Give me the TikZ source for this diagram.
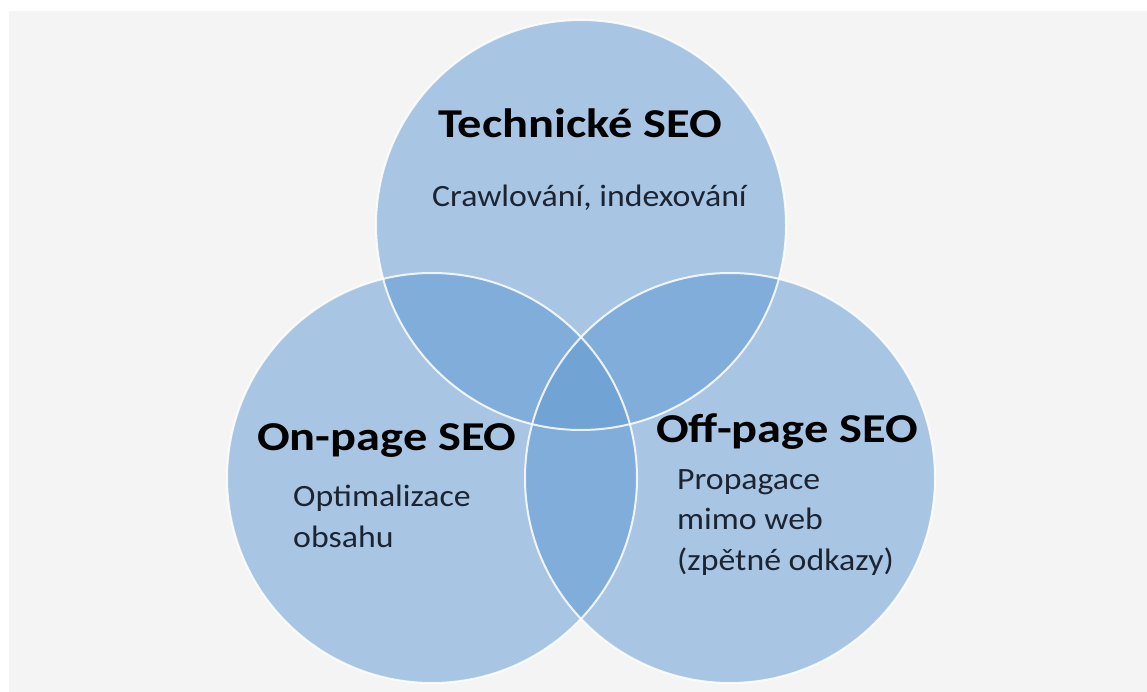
\documentclass[tikz,border=0pt]{standalone}
\usepackage{fontspec}
\setmainfont{Carlito}
\definecolor{bgc}{RGB}{244,244,244}
\definecolor{cone}{RGB}{168,198,228}
\definecolor{ctwo}{RGB}{128,173,218}
\definecolor{cthree}{RGB}{114,163,213}
\definecolor{txtc}{RGB}{28,36,50}
\begin{document}
\begin{tikzpicture}[x=1pt,y=-1pt,
  titletext/.style={font=\fontsize{41}{41}\selectfont\bfseries, text=black, inner sep=0pt, xscale=1.18, transform shape},
  bodytext/.style={font=\fontsize{31}{40.5}\selectfont, text=txtc, inner sep=0pt, xscale=1.09, transform shape, align=left},
  ring/.style={draw=white, draw opacity=0.85, line width=2pt}]
\useasboundingbox (0,0) rectangle (1147,692);
\fill[white] (0,0) rectangle (1147,692);
\fill[bgc] (9,11) rectangle (1147,692);
\coordinate (T) at (581,225);
\coordinate (L) at (432,478);
\coordinate (R) at (730,478);
\fill[cone] (T) circle[radius=205pt] (L) circle[radius=205pt] (R) circle[radius=205pt];
\begin{scope}
  \clip (T) circle[radius=205pt];
  \fill[ctwo] (L) circle[radius=205pt] (R) circle[radius=205pt];
\end{scope}
\begin{scope}
  \clip (L) circle[radius=205pt];
  \fill[ctwo] (R) circle[radius=205pt];
\end{scope}
\begin{scope}
  \clip (T) circle[radius=205pt];
  \clip (L) circle[radius=205pt];
  \fill[cthree] (R) circle[radius=205pt];
\end{scope}
\draw[ring] (T) circle[radius=205pt];
\draw[ring] (L) circle[radius=205pt];
\draw[ring] (R) circle[radius=205pt];
\node[titletext, anchor=base] (tt) at (580,138) {Technické SEO};
\node[bodytext, anchor=base] (tb) at (589.5,207) {Crawlování, indexování};
\node[titletext, anchor=base west] (lt) at (257,450) {On-page SEO};
\node[bodytext, anchor=base west] (lb) at (293,547) {Optimalizace\\obsahu};
\node[titletext, anchor=base west] (rt) at (656,442) {Off-page SEO};
\node[bodytext, anchor=base west] (rb) at (677,570) {Propagace\\mimo web\\(zpětné odkazy)};
\end{tikzpicture}
\end{document}
